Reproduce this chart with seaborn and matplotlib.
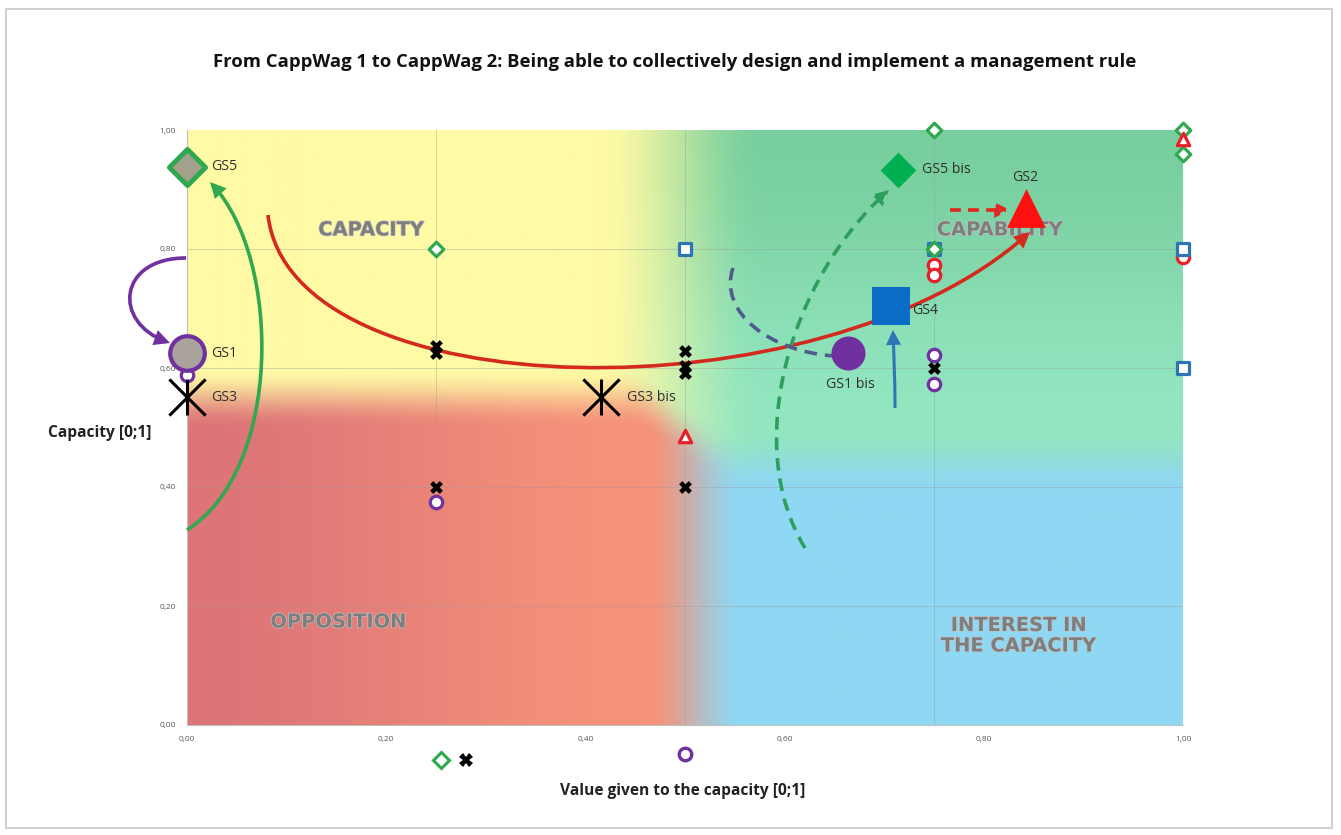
import numpy as np
import pandas as pd
import matplotlib
matplotlib.use("Agg")
import matplotlib.pyplot as plt
import seaborn as sns
from matplotlib.patches import FancyArrowPatch, Rectangle
from matplotlib.path import Path
from matplotlib.lines import Line2D
import matplotlib.patheffects as pe

# --- small survey points (value, capacity) ---
diamond_x = [0.25, 0.75, 0.75, 1.00, 1.00]
diamond_y = [0.80, 1.00, 0.80, 1.00, 0.96]
square_x = [0.50, 1.00, 1.00, 0.75]
square_y = [0.80, 0.80, 0.60, 0.80]
redcirc_x = [0.75, 0.75, 1.00]
redcirc_y = [0.773, 0.756, 0.787]
tri_x = [0.50, 1.00]
tri_y = [0.486, 0.985]
cross_x = [0.25, 0.25, 0.25, 0.50, 0.50, 0.50, 0.50, 0.75]
cross_y = [0.637, 0.625, 0.40, 0.628, 0.603, 0.592, 0.40, 0.60]
purple_x = [0.00, 0.25, 0.75, 0.75]
purple_y = [0.588, 0.375, 0.622, 0.573]

# --- group summaries (big markers) ---
gs_labels = ["GS5", "GS1", "GS3", "GS3 bis", "GS1 bis", "GS4", "GS5 bis", "GS2"]
gs_x = [0.00, 0.00, 0.00, 0.416, 0.664, 0.707, 0.714, 0.842]
gs_y = [0.938, 0.625, 0.551, 0.551, 0.625, 0.704, 0.933, 0.869]

ticks = [0.0, 0.2, 0.4, 0.6, 0.8, 1.0]
tick_labels = ["0,00", "0,20", "0,40", "0,60", "0,80", "1,00"]

sns.set_theme(style="white")
plt.rcParams["font.family"] = ["Open Sans", "DejaVu Sans"]

fig = plt.figure(figsize=(13.41, 8.35), dpi=100)
ax = fig.add_axes([187 / 1341, 1 - 725 / 835, 996 / 1341, 595 / 835])

# frame around the whole picture
fig.patches.append(Rectangle((6 / 1341, 1 - 828 / 835), 1326 / 1341, 819 / 835,
                             transform=fig.transFigure, fill=False,
                             edgecolor="#C8C8C8", linewidth=1.2))

# --- background quadrants ---
def smooth(v, a, b):
    t = np.clip((v - a) / (b - a), 0, 1)
    return t * t * (3 - 2 * t)

gx, gy = np.meshgrid(np.linspace(0, 1, 500), np.linspace(0, 1, 400))
gx, gy = gx[..., None], gy[..., None]
yellow = np.array([255, 250, 165]) / 255
green_top = np.array([120, 207, 158]) / 255
green_mid = np.array([146, 230, 192]) / 255
rose = np.array([221, 117, 120]) / 255
salmon = np.array([246, 146, 122]) / 255
blue = np.array([143, 216, 243]) / 255

green = green_mid + (green_top - green_mid) * smooth(gy, 0.5, 1.0)
top = yellow + (green - yellow) * smooth(gx, 0.41, 0.58)
red = rose + (salmon - rose) * smooth(gx, 0.0, 0.46)
bottom = red + (blue - red) * smooth(gx, 0.46, 0.56)
sx = smooth(gx, 0.44, 0.56)
cy = 0.56 * (1 - sx) + 0.455 * sx
bg = bottom + (top - bottom) * smooth(gy, cy - 0.06, cy + 0.04)
ax.imshow(np.clip(bg, 0, 1), extent=[0, 1, 0, 1], origin="lower",
          aspect="auto", zorder=0, interpolation="bilinear")

ax.set_xlim(0, 1)
ax.set_ylim(0, 1)
for yv in ticks[1:-1]:
    ax.axhline(yv, color="#9a9a9a", lw=0.6, alpha=0.45, zorder=1)
for xv in sorted(set(diamond_x + cross_x) - {0.0, 1.0}):
    ax.axvline(xv, color="#9a9a9a", lw=0.6, alpha=0.45, zorder=1)

# --- quadrant names ---
quad_fx = dict(fontsize=14, fontweight="bold", color="#7E7E7E", family="DejaVu Sans",
               ha="center", va="center", zorder=2,
               path_effects=[pe.withStroke(linewidth=1.0, foreground="#c4c4c4")])
ax.text(0.185, 0.832, "CAPACITY", **quad_fx)
ax.text(0.816, 0.832, "CAPABILITY", **quad_fx)
ax.text(0.152, 0.173, "OPPOSITION", **quad_fx)
ax.text(0.835, 0.15, "INTEREST IN\nTHE CAPACITY", linespacing=1.1, **quad_fx)

# --- arrows (cubic curves) ---
def px(p):
    return ((p[0] - 187) / 996, (725 - p[1]) / 595)

def curve(pts, color, ls="-", head=True, lw=2.6):
    verts = [px(p) for p in pts]
    path = Path(verts, [Path.MOVETO] + [Path.CURVE4] * (len(verts) - 1))
    arr = FancyArrowPatch(path=path, arrowstyle="-|>" if head else "-",
                          mutation_scale=18, color=color, lw=lw, linestyle=ls,
                          transform=ax.transData, clip_on=False, zorder=4,
                          joinstyle="miter", capstyle="butt")
    ax.add_patch(arr)

curve([(268, 215), (290, 410), (820, 420), (1030, 232)], "#D42A1E")
curve([(187, 530), (282, 470), (282, 260), (210, 182)], "#2FA84F")
curve([(186, 258), (118, 258), (112, 322), (170, 343)], "#7030A0")
curve([(805, 548), (742, 445), (790, 280), (889, 190)], "#2E9E5E", ls=(0, (3.5, 2.2)))
curve([(733, 268), (718, 312), (770, 352), (835, 356)], "#505C8C", ls=(0, (3.5, 2.2)), head=False)
curve([(950, 210), (970, 210), (990, 210), (1010, 210)], "#E0281E", ls=(0, (3, 2)))
curve([(895, 408), (895, 380), (894, 360), (893, 330)], "#2E75B6", lw=2.2)

# --- small markers ---
sm = dict(s=80, linewidth=2.3, facecolor="white", clip_on=False, zorder=5, ax=ax)
sns.scatterplot(x=redcirc_x, y=redcirc_y, marker="o", edgecolor="#E8202A", **sm)
sns.scatterplot(x=square_x, y=square_y, marker="s", edgecolor="#2E75B6", **sm)
sns.scatterplot(x=diamond_x, y=diamond_y, marker="D", edgecolor="#2FA84F",
                **{**sm, "s": 55})
sns.scatterplot(x=tri_x, y=tri_y, marker="^", edgecolor="#E8202A", **sm)
sns.scatterplot(x=purple_x, y=purple_y, marker="o", edgecolor="#7030A0", **sm)
sns.scatterplot(x=cross_x, y=cross_y, marker="X", color="black", s=85,
                linewidth=0, clip_on=False, zorder=5, ax=ax)

# --- big markers ---
gs = pd.DataFrame({"label": gs_labels, "x": gs_x, "y": gs_y}).set_index("label")
big = dict(clip_on=False, zorder=6, ax=ax)
sns.scatterplot(x=[gs.loc["GS5", "x"]], y=[gs.loc["GS5", "y"]], marker="D", s=340,
                facecolor="#A3A08C", edgecolor="#2FA84F", linewidth=3.5, **big)
sns.scatterplot(x=[gs.loc["GS1", "x"]], y=[gs.loc["GS1", "y"]], marker="o", s=620,
                facecolor="#A9A39C", edgecolor="#7030A0", linewidth=3, **big)
for lab in ["GS3", "GS3 bis"]:
    for mk in ["x", "|"]:
        sns.scatterplot(x=[gs.loc[lab, "x"]], y=[gs.loc[lab, "y"]], marker=mk, s=680,
                        color="black", linewidth=2.2, **big)
sns.scatterplot(x=[gs.loc["GS1 bis", "x"]], y=[gs.loc["GS1 bis", "y"]], marker="o",
                s=600, color="#7030A0", linewidth=0, **big)
sns.scatterplot(x=[gs.loc["GS4", "x"]], y=[gs.loc["GS4", "y"]], marker="s", s=720,
                color="#0A6CC4", linewidth=0, **big)
sns.scatterplot(x=[gs.loc["GS5 bis", "x"]], y=[gs.loc["GS5 bis", "y"]], marker="D",
                s=330, color="#00B050", linewidth=0, **big)
sns.scatterplot(x=[gs.loc["GS2", "x"]], y=[gs.loc["GS2", "y"]], marker="^", s=780,
                color="#FF1010", linewidth=0, **big)

# --- labels next to the big markers ---
lab_fx = dict(fontsize=10.2, color="#303030", zorder=7)
offsets = {"GS5": (24, 0, "left", "center"), "GS1": (24, 0, "left", "center"),
           "GS3": (24, 0, "left", "center"), "GS3 bis": (26, 0, "left", "center"),
           "GS1 bis": (-22, -31, "left", "center"), "GS4": (21, -4, "left", "center"),
           "GS5 bis": (24, 0, "left", "center"), "GS2": (0, 30, "center", "center")}
for lab, (dx, dy, ha, va) in offsets.items():
    ax.annotate(lab, (gs.loc[lab, "x"], gs.loc[lab, "y"]), xytext=(dx, dy),
                textcoords="offset pixels", ha=ha, va=va, **lab_fx)

# --- axes cosmetics ---
ax.set_xticks(ticks)
ax.set_xticklabels(tick_labels)
ax.set_yticks(ticks)
ax.set_yticklabels(tick_labels)
ax.tick_params(labelsize=6, colors="#595959", length=0, pad=8)
for side in ["top", "right"]:
    ax.spines[side].set_visible(False)
for side in ["left", "bottom"]:
    ax.spines[side].set_color("#BFBFBF")
    ax.spines[side].set_linewidth(0.8)

ax.set_xlabel("Value given to the capacity [0;1]", fontsize=11.2, fontweight="bold",
              color="#222222")
ax.xaxis.set_label_coords(0.498, -0.097)
ax.set_ylabel("Capacity [0;1]", fontsize=11.2, fontweight="bold", color="#222222",
              rotation=0, ha="center", va="center")
ax.yaxis.set_label_coords(-0.0873, 0.49)

fig.text(0.503, 1 - 62 / 835,
         "From CappWag 1 to CappWag 2: Being able to collectively design and implement a management rule",
         ha="center", va="center", fontsize=13.3, fontweight="bold", color="#111111")

# --- legend keys without text under the x axis ---
h1 = [Line2D([], [], marker="D", ls="", markersize=8, markerfacecolor="white",
             markeredgecolor="#2FA84F", markeredgewidth=2.2),
      Line2D([], [], marker="X", ls="", markersize=10, color="black", markeredgewidth=0)]
fig.legend(h1, ["", ""], ncol=2, frameon=False, handlelength=0.6,
           columnspacing=0.8, handletextpad=0.2,
           loc="center", bbox_to_anchor=(455 / 1341, 1 - 762 / 835))
h2 = [Line2D([], [], marker="o", ls="", markersize=9, markerfacecolor="white",
             markeredgecolor="#7030A0", markeredgewidth=2.4)]
fig.legend(h2, [""], frameon=False, handlelength=0.6, handletextpad=0.2,
           loc="center", bbox_to_anchor=(687 / 1341, 1 - 756 / 835))

fig.savefig("out.png", dpi=100)
